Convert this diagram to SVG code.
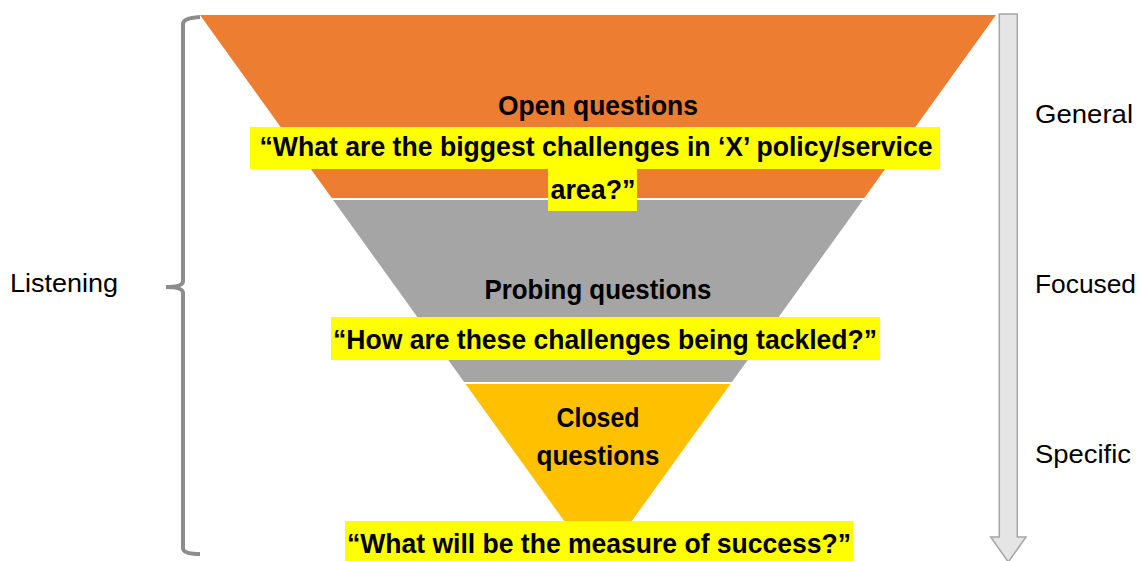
<svg xmlns="http://www.w3.org/2000/svg" width="1142" height="561" viewBox="0 0 1142 561">
  <style>
    .lbl { font-family: "Liberation Sans", Arial, sans-serif; font-size: 26.5px; fill: #000; }
    .hd { font-family: "Liberation Sans", Arial, sans-serif; font-size: 28px; font-weight: bold; fill: #000; text-anchor: middle; }
    .hl { fill: #FFFF00; }
  </style>
  <rect width="1142" height="561" fill="#FFFFFF"/>

  <!-- Funnel bands -->
  <g id="band-open">
    <polygon points="200,15 996,15 864.3,198 331.7,198" fill="#ED7D31"/>
  </g>
  <g id="band-probing">
    <polygon points="333.1,200 862.9,200 731.9,382 464.1,382" fill="#A5A5A5"/>
  </g>
  <g id="band-closed">
    <polygon points="465.5,384 730.5,384 598,568" fill="#FFC000"/>
  </g>

  <!-- Listening brace -->
  <g id="brace">
    <path d="M200,17 Q183,18 183,24 L183,281 Q183,287 166,287 Q183,287 183,293 L183,548 Q183,554 200,554" fill="none" stroke="#8C8C8C" stroke-width="4"/>
  </g>

  <!-- General to specific arrow -->
  <g id="arrow">
    <polygon points="999.3,14 1017.3,14 1017.3,537 1026,537 1008.3,562 990.7,537 999.3,537" fill="#E5E5E5" stroke="#A5A5A5" stroke-width="1.5"/>
  </g>

  <!-- Open questions -->
  <g id="open-questions">
    <text class="hd" x="598" y="115" textLength="200" lengthAdjust="spacingAndGlyphs">Open questions</text>
    <rect class="hl" x="250" y="127" width="690" height="42"/>
    <rect class="hl" x="548" y="169" width="89" height="42"/>
    <text class="hd" x="596" y="156" textLength="673" lengthAdjust="spacingAndGlyphs">“What are the biggest challenges in ‘X’ policy/service</text>
    <text class="hd" x="593" y="199" textLength="85" lengthAdjust="spacingAndGlyphs">area?”</text>
  </g>

  <!-- Probing questions -->
  <g id="probing-questions">
    <text class="hd" x="598" y="299" textLength="227" lengthAdjust="spacingAndGlyphs">Probing questions</text>
    <rect class="hl" x="331" y="317" width="549" height="43"/>
    <text class="hd" x="605" y="349" textLength="544" lengthAdjust="spacingAndGlyphs">“How are these challenges being tackled?”</text>
  </g>

  <!-- Closed questions -->
  <g id="closed-questions">
    <text class="hd" x="598" y="427" textLength="83" lengthAdjust="spacingAndGlyphs">Closed</text>
    <text class="hd" x="598" y="465" textLength="123" lengthAdjust="spacingAndGlyphs">questions</text>
    <rect class="hl" x="345" y="521" width="508" height="40"/>
    <text class="hd" x="599" y="553" textLength="504" lengthAdjust="spacingAndGlyphs">“What will be the measure of success?”</text>
  </g>

  <!-- Side labels -->
  <g id="label-listening">
    <text class="lbl" x="10" y="292" textLength="108" lengthAdjust="spacingAndGlyphs">Listening</text>
  </g>
  <g id="label-general">
    <text class="lbl" x="1035" y="123" textLength="98" lengthAdjust="spacingAndGlyphs">General</text>
  </g>
  <g id="label-focused">
    <text class="lbl" x="1035" y="293" textLength="101" lengthAdjust="spacingAndGlyphs">Focused</text>
  </g>
  <g id="label-specific">
    <text class="lbl" x="1035" y="463" textLength="96" lengthAdjust="spacingAndGlyphs">Specific</text>
  </g>
</svg>
